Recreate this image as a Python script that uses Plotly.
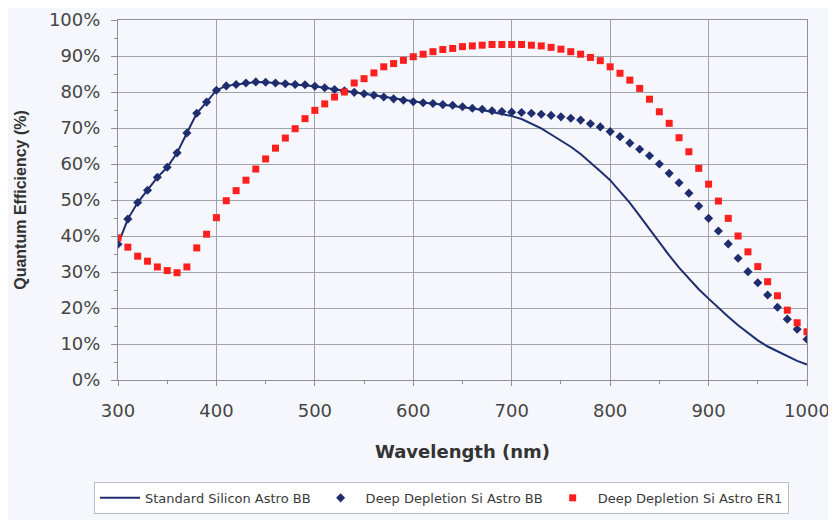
import plotly.graph_objects as go

wavelength = list(range(300, 1001, 10))

deep_bb = [37.7, 44.7, 49.3, 52.7, 56.3, 59.1, 63.1, 68.6, 74.1, 77.2,
           80.5, 81.7, 82.1, 82.5, 82.8, 82.7, 82.5, 82.3, 82.1, 82.0,
           81.6, 81.2, 80.7, 80.3, 79.9, 79.5, 79.1, 78.6, 78.1, 77.7,
           77.3, 77.0, 76.8, 76.5, 76.3, 75.9, 75.5, 75.2, 74.8, 74.6,
           74.4, 74.3, 74.1, 73.8, 73.5, 73.1, 72.7, 72.2, 71.2, 70.3,
           69.0, 67.6, 65.8, 64.1, 62.3, 60.0, 57.4, 54.8, 51.9, 48.3,
           44.9, 41.4, 37.8, 33.8, 30.1, 27.0, 23.6, 20.2, 16.9, 14.1,
           11.3]

deep_er1 = [39.5, 36.9, 34.4, 33.0, 31.4, 30.4, 29.8, 31.4, 36.7, 40.5,
            45.1, 49.8, 52.6, 55.5, 58.6, 61.4, 64.4, 67.2, 69.8, 72.6,
            74.9, 76.7, 78.6, 80.0, 82.5, 83.7, 85.3, 87.0, 87.9, 88.8,
            89.8, 90.5, 91.2, 91.8, 92.1, 92.6, 92.8, 93.0, 93.2, 93.2,
            93.2, 93.2, 93.0, 92.8, 92.4, 91.9, 91.2, 90.5, 89.6, 88.7,
            87.0, 85.2, 83.3, 81.0, 78.0, 74.5, 71.3, 67.3, 63.4, 58.8,
            54.4, 49.7, 44.9, 40.0, 35.6, 31.5, 27.3, 23.4, 19.4, 15.9,
            13.4]

standard_bb = [37.7, 44.7, 49.3, 52.7, 56.3, 59.1, 63.1, 68.6, 74.1, 77.2,
               80.5, 81.7, 82.1, 82.5, 82.8, 82.7, 82.5, 82.3, 82.1, 82.0,
               81.6, 81.2, 80.7, 80.3, 79.9, 79.5, 79.1, 78.6, 78.1, 77.7,
               77.3, 77.0, 76.8, 76.5, 76.2, 75.8, 75.4, 75.0, 74.5, 74.0,
               73.3, 72.5, 71.3, 69.9, 68.2, 66.6, 64.8, 62.8, 60.5, 58.0,
               55.5, 52.5, 49.2, 45.6, 41.9, 38.1, 34.6, 31.2, 28.1, 25.2,
               22.6, 20.0, 17.6, 15.2, 13.0, 11.0, 9.3, 8.0, 6.6, 5.3,
               4.3]

y_ticks = list(range(0, 101, 10))
y_tick_labels = [f"{v}%" for v in y_ticks]
x_ticks = list(range(300, 1001, 100))

navy = "#1f2d6e"
red = "#ff1f1f"
bg = "#f5f7fc"
grid = "#9ea3ab"
axis_col = "#8a8f98"
wide_font = "DejaVu Sans, Verdana, sans-serif"
font = "Liberation Sans, Arial, sans-serif"

fig = go.Figure()
fig.add_trace(go.Scatter(x=wavelength, y=standard_bb, mode="lines",
                         name="Standard Silicon Astro BB",
                         line=dict(color=navy, width=2)))
fig.add_trace(go.Scatter(x=wavelength, y=deep_bb, mode="markers",
                         name="Deep Depletion Si Astro BB",
                         marker=dict(symbol="diamond", size=7, color=navy)))
fig.add_trace(go.Scatter(x=wavelength, y=deep_er1, mode="markers",
                         name="Deep Depletion Si Astro ER1",
                         marker=dict(symbol="square", size=7, color=red)))

fig.update_layout(
    width=828, height=512,
    margin=dict(l=110, r=29, t=12, b=140, autoexpand=False),
    paper_bgcolor=bg, plot_bgcolor=bg,
    font=dict(family=font, color="#444444"),
    showlegend=True,
    legend=dict(orientation="h", x=-0.0348, xanchor="left", y=-0.283, yanchor="top",
                bgcolor="#ffffff", bordercolor="#b8bcc4", borderwidth=1,
                font=dict(size=13, color="#3a3a3a", family=wide_font), itemwidth=40,
                tracegroupgap=0),
    xaxis=dict(range=[300, 1000], tickvals=x_ticks, showgrid=True, gridcolor=grid,
               gridwidth=1, showline=True, linecolor=axis_col, linewidth=1,
               ticks="outside", ticklen=5, tickcolor=axis_col, ticklabelstandoff=9,
               minor=dict(dtick=50, tick0=300, ticks="outside", ticklen=3, tickcolor=axis_col, showgrid=False),
               tickfont=dict(size=18, color="#454545", family=wide_font),
               title=dict(text="<b>Wavelength (nm)</b>", font=dict(size=18, color="#333333", family=wide_font), standoff=25),
               zeroline=False, mirror=True, automargin=False),
    yaxis=dict(range=[0, 100], tickvals=y_ticks, ticktext=y_tick_labels, showgrid=True, gridcolor=grid,
               gridwidth=1, showline=True, linecolor=axis_col, linewidth=1,
               ticks="outside", ticklen=6, tickcolor=axis_col, ticklabelstandoff=7,
               minor=dict(dtick=5, tick0=0, ticks="outside", ticklen=3, tickcolor=axis_col, showgrid=False),
               tickfont=dict(size=18, color="#454545", family=wide_font),
               title=dict(text="<b>Quantum Efficiency (%)</b>", font=dict(size=16, color="#333333", family=font), standoff=18),
               zeroline=False, mirror=True, automargin=False),
)

fig.write_html("out.html")
